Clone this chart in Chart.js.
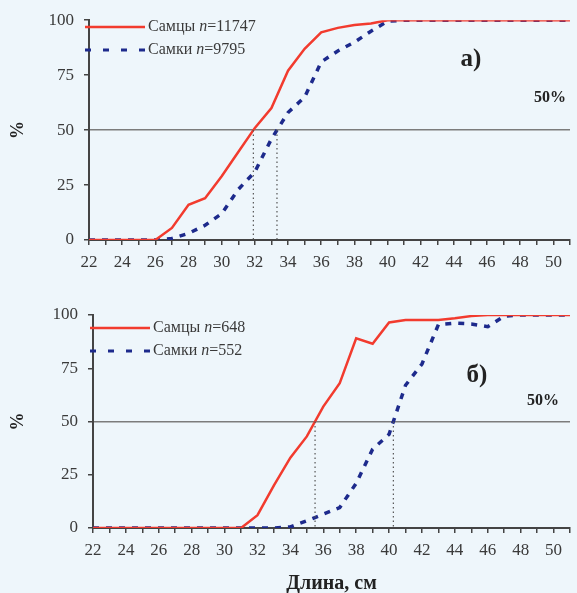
<!DOCTYPE html>
<html>
<head>
<meta charset="utf-8">
<script src="https://cdn.jsdelivr.net/npm/chart.js@4.4.1/dist/chart.umd.min.js"></script>
<style>
  body { margin: 0; background: #eef6fb; }
  #wrap { position: relative; width: 577px; height: 593px; background: #eef6fb; }
  canvas { position: absolute; left: 0; }
</style>
</head>
<body>
<div id="wrap">
  <canvas id="chartA" width="577" height="290" style="top:0"></canvas>
  <canvas id="chartB" width="577" height="303" style="top:290px"></canvas>
</div>
<script>
'use strict';

// lengths, cm
let lengths = [22, 23, 24, 25, 26, 27, 28, 29, 30, 31, 32, 33, 34, 35, 36,
  37, 38, 39, 40, 41, 42, 43, 44, 45, 46, 47, 48, 49, 50, 51];

// panel a) - cumulative %
let malesA = [0, 0, 0, 0, 0, 5.5, 16, 19, 29, 40, 51, 60, 77, 87, 94.5,
  96.5, 97.8, 98.5, 100, 100, 100, 100, 100, 100, 100, 100, 100, 100, 100, 100];
let femalesA = [0, 0, 0, 0, 0, 0.7, 3, 6.7, 12, 23, 31, 46, 58, 65, 81,
  86, 90, 95, 99.5, 100, 100, 100, 100, 100, 100, 100, 100, 100, 100, 100];

// panel б)
let malesB = [0, 0, 0, 0, 0, 0, 0, 0, 0, 0, 6, 20, 33, 43, 57,
  68, 89, 86.5, 96.5, 97.7, 97.7, 97.7, 98.5, 99.5, 100, 100, 100, 100, 100, 100];
let femalesB = [0, 0, 0, 0, 0, 0, 0, 0, 0, 0, 0, 0, 0.5, 3.4, 6.5,
  9.6, 21, 37, 44, 67, 77, 95.5, 96.2, 95.8, 94.5, 99.5, 100, 100, 100, 100];

let xLabels = [22, 24, 26, 28, 30, 32, 34, 36, 38, 40, 42, 44, 46, 48, 50];
let yTicks = [0, 25, 50, 75, 100];

let serif = 'Liberation Serif';
let red = '#f23b2e';
let blue = '#1d2a8c';
let ink = '#3a3a3a';

// where a series goes over 50 %
function crossing(values) {
  for (let i = 1; i < values.length; i++) {
    if (values[i - 1] < 50 && values[i] >= 50) {
      return lengths[i - 1] + (50 - values[i - 1]) / (values[i] - values[i - 1]);
    }
  }
  return null;
}

function legendText(ctx, x, y, word, num) {
  ctx.textBaseline = 'middle';
  ctx.textAlign = 'left';
  ctx.fillStyle = ink;
  ctx.font = '16px "' + serif + '"';
  ctx.fillText(word + ' ', x, y);
  x += ctx.measureText(word + ' ').width;
  ctx.font = 'italic 16px "' + serif + '"';
  ctx.fillText('n', x, y);
  x += ctx.measureText('n').width;
  ctx.font = '16px "' + serif + '"';
  ctx.fillText('=' + num, x, y);
}

let overlay = {
  id: 'overlay',
  afterDatasetsDraw(chart) {
    let ctx = chart.ctx;
    let o = chart.options.plugins.overlay;
    let xs = chart.scales.x;
    let ys = chart.scales.y;

    // dotted drop lines at 50 %
    ctx.save();
    ctx.strokeStyle = '#555';
    ctx.lineWidth = 1.2;
    ctx.setLineDash([1.5, 3]);
    [crossing(o.males), crossing(o.females)].forEach(function(c) {
      if (c === null) return;
      let px = xs.getPixelForValue(c);
      ctx.beginPath();
      ctx.moveTo(px, ys.getPixelForValue(50));
      ctx.lineTo(px, ys.getPixelForValue(0));
      ctx.stroke();
    });
    ctx.restore();

    // legend
    ctx.save();
    ctx.lineWidth = 2.5;
    ctx.strokeStyle = red;
    ctx.beginPath();
    ctx.moveTo(o.legX, o.legY);
    ctx.lineTo(o.legX + 60, o.legY);
    ctx.stroke();
    ctx.lineWidth = 3;
    ctx.strokeStyle = blue;
    ctx.setLineDash([6, 12]);
    ctx.beginPath();
    ctx.moveTo(o.legX, o.legY + 23);
    ctx.lineTo(o.legX + 60, o.legY + 23);
    ctx.stroke();
    ctx.setLineDash([]);
    legendText(ctx, o.legX + 63, o.legY, 'Самцы', o.nMales);
    legendText(ctx, o.legX + 63, o.legY + 23, 'Самки', o.nFemales);

    // panel label and 50% mark
    ctx.fillStyle = '#222';
    ctx.textAlign = 'center';
    ctx.textBaseline = 'middle';
    ctx.font = 'bold 25px "' + serif + '"';
    ctx.fillText(o.panel, o.panelX, o.panelY);
    ctx.font = 'bold 16px "' + serif + '"';
    ctx.fillText('50%', o.pctX, o.pctY);
    ctx.restore();
  }
};

function makeChart(canvasId, males, females, cfg) {
  let maleLine = lengths.map((x, i) => ({ x: x, y: males[i] }));
  let femaleLine = lengths.map((x, i) => ({ x: x, y: females[i] }));

  let xScale = {
    type: 'linear',
    min: 22,
    max: 51,
    afterBuildTicks: scale => { scale.ticks = lengths.map(v => ({ value: v })); },
    ticks: {
      autoSkip: false,
      maxRotation: 0,
      padding: 7,
      color: ink,
      font: { family: serif, size: 17 },
      callback: v => (xLabels.includes(v) ? v : '')
    },
    grid: { drawOnChartArea: false, tickLength: 5, tickColor: '#444', lineWidth: 1.5 },
    border: { color: '#444', width: 2 },
    afterFit: scale => { scale.height = cfg.xHeight; }
  };
  if (cfg.xTitle) {
    xScale.title = {
      display: true,
      text: cfg.xTitle,
      color: '#222',
      font: { family: serif, size: 20, weight: 'bold' },
      padding: { top: 0, bottom: -3 }
    };
  }

  new Chart(document.getElementById(canvasId), {
    type: 'line',
    data: {
      datasets: [{
        label: 'Самцы',
        data: maleLine,
        borderColor: red,
        borderWidth: 2.5,
        pointRadius: 0,
        tension: 0
      },
      {
        label: 'Самки',
        data: femaleLine,
        borderColor: blue,
        borderWidth: 3.5,
        borderDash: [6, 7],
        pointRadius: 0,
        tension: 0
      }]
    },
    options: {
      responsive: false,
      animation: false,
      layout: { padding: { top: cfg.top, right: cfg.right, left: 0, bottom: 0 } },
      plugins: {
        legend: { display: false },
        tooltip: { enabled: false },
        overlay: Object.assign({ males: males, females: females }, cfg.overlay)
      },
      scales: {
        x: xScale,
        y: {
          min: 0,
          max: 100,
          afterBuildTicks: scale => { scale.ticks = yTicks.map(v => ({ value: v })); },
          ticks: { padding: 10, color: ink, font: { family: serif, size: 17 } },
          grid: {
            color: c => (c.tick && c.tick.value === 50 ? '#7c7c7c' : 'rgba(0,0,0,0)'),
            lineWidth: 1.5,
            tickLength: 5,
            tickColor: '#444'
          },
          border: { color: '#444', width: 2 },
          title: {
            display: true,
            text: '%',
            color: '#222',
            font: { family: serif, size: 18, weight: 'bold' },
            padding: { top: 8, bottom: 0 }
          },
          afterFit: scale => { scale.width = cfg.yWidth; }
        }
      }
    },
    plugins: [overlay]
  });
}

makeChart('chartA', malesA, femalesA, {
  top: 18, right: 4, xHeight: 50, yWidth: 89,
  overlay: {
    legX: 85, legY: 27, nMales: '11747', nFemales: '9795',
    panel: 'а)', panelX: 471, panelY: 60, pctX: 550, pctY: 98
  }
});

makeChart('chartB', malesB, femalesB, {
  top: 25, right: 0, xHeight: 65, yWidth: 93, xTitle: 'Длина, см',
  overlay: {
    legX: 90, legY: 38, nMales: '648', nFemales: '552',
    panel: 'б)', panelX: 477, panelY: 86, pctX: 543, pctY: 111
  }
});
</script>
</body>
</html>
